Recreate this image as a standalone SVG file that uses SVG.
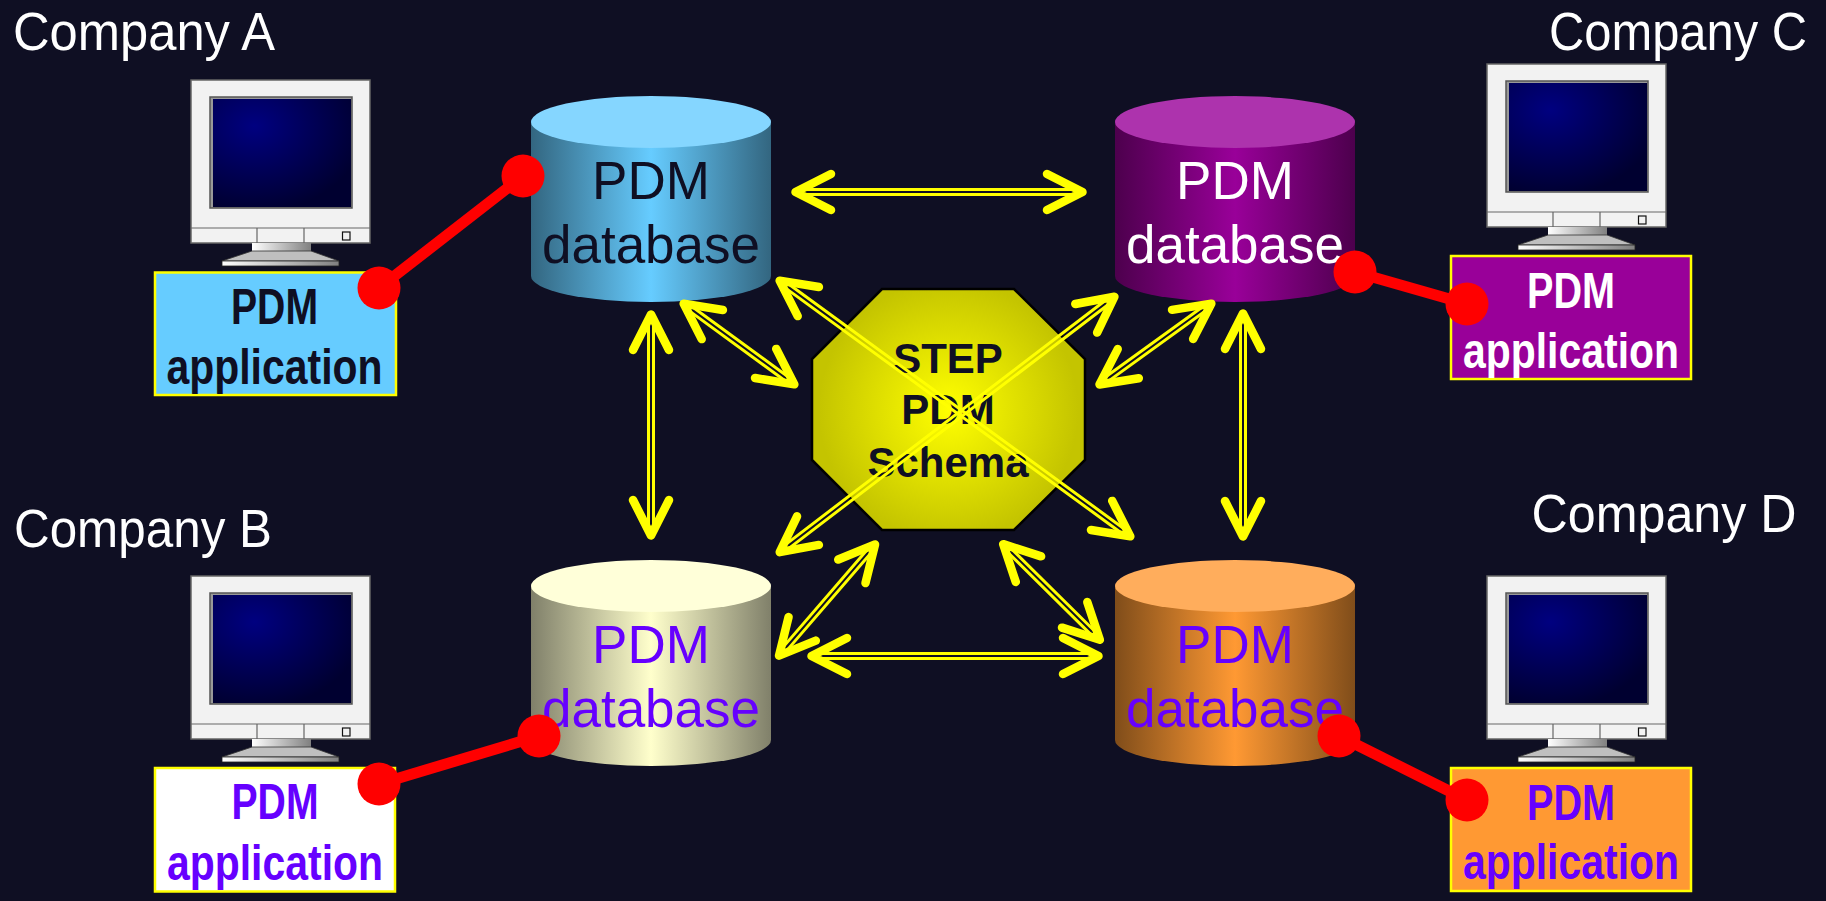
<svg xmlns="http://www.w3.org/2000/svg" width="1826" height="901" viewBox="0 0 1826 901">
<style>
text{text-anchor:middle}
.db{font:53px "Liberation Sans",Arial,sans-serif}
.app{font:bold 50px "Liberation Sans",Arial,sans-serif}
.co{font:54px "Liberation Sans",Arial,sans-serif;fill:#fff}
.box{stroke:#ff0;stroke-width:2.5}
.dark{fill:#0f0f23}.white{fill:#fff}.purple{fill:#60f}
.wire{stroke:#f00;stroke-width:11;fill:none}
.dot{fill:#f00}
.ln{fill:none;stroke:#ff0;stroke-width:3}
.hd{fill:none;stroke:#ff0;stroke-width:8.500;stroke-linecap:round;stroke-linejoin:round}
</style>
<defs>
<linearGradient id="gA"><stop offset="0" stop-color="#336680"/><stop offset=".5" stop-color="#66ccff"/><stop offset="1" stop-color="#336680"/></linearGradient>
<linearGradient id="gB"><stop offset="0" stop-color="#80806a"/><stop offset=".5" stop-color="#ffffcc"/><stop offset="1" stop-color="#80806a"/></linearGradient>
<linearGradient id="gC"><stop offset="0" stop-color="#4d004d"/><stop offset=".5" stop-color="#990099"/><stop offset="1" stop-color="#4d004d"/></linearGradient>
<linearGradient id="gD"><stop offset="0" stop-color="#804d1a"/><stop offset=".5" stop-color="#ff9933"/><stop offset="1" stop-color="#804d1a"/></linearGradient>
<radialGradient id="gO" gradientUnits="userSpaceOnUse" cx="948.5" cy="410" r="130"><stop offset="0" stop-color="#ffff00"/><stop offset="1" stop-color="#c4c400"/></radialGradient>
<radialGradient id="gS" cx=".3" cy=".25" r=".8"><stop offset="0" stop-color="#000080"/><stop offset="1" stop-color="#000030"/></radialGradient>
<linearGradient id="gN"><stop offset="0" stop-color="#fff"/><stop offset="1" stop-color="#808080"/></linearGradient>
<g id="monitor">
<rect x="191" y="80" width="179" height="163" fill="#f2f2f2" stroke="#666" stroke-width="1.5"/>
<rect x="210" y="97" width="142" height="111" fill="#999" stroke="#555" stroke-width="1.5"/>
<rect x="213" y="99" width="138" height="108" fill="url(#gS)"/>
<path d="M191 228H370M257 228V243M304 228V243" fill="none" stroke="#666" stroke-width="1.2"/>
<rect x="342.500" y="232" width="7.500" height="8" fill="#f2f2f2" stroke="#111" stroke-width="1.2"/>
<rect x="252" y="243" width="59" height="8" fill="url(#gN)"/>
<path d="M252 251H311L339 261H222Z" fill="#bfbfbf" stroke="#333" stroke-width=".8"/>
<rect x="222" y="261" width="117" height="5" fill="url(#gN)" stroke="#222" stroke-width=".8"/>
</g>
<path id="head" class="hd" d="M40-18L4.500 0L40 18"/>
</defs>

<rect width="1826" height="901" fill="#0f0f23"/>

<g id="company-a">
<use href="#monitor"/>
<text class="co" x="144" y="50" textLength="262" lengthAdjust="spacingAndGlyphs">Company A</text>
<rect class="box" x="155" y="272.500" width="241" height="122.500" fill="#66ccff"/>
<text class="app dark" x="274.500" y="324" textLength="87" lengthAdjust="spacingAndGlyphs">PDM</text>
<text class="app dark" x="274.500" y="384" textLength="216" lengthAdjust="spacingAndGlyphs">application</text>
</g>
<g id="company-b">
<use href="#monitor" y="496"/>
<text class="co" x="143" y="547" textLength="258" lengthAdjust="spacingAndGlyphs">Company B</text>
<rect class="box" x="155" y="768" width="240" height="123.500" fill="#fff"/>
<text class="app purple" x="275" y="819" textLength="87" lengthAdjust="spacingAndGlyphs">PDM</text>
<text class="app purple" x="275" y="880" textLength="216" lengthAdjust="spacingAndGlyphs">application</text>
</g>
<g id="company-c">
<use href="#monitor" x="1296" y="-16"/>
<text class="co" x="1678" y="50" textLength="258" lengthAdjust="spacingAndGlyphs">Company C</text>
<rect class="box" x="1451" y="256" width="240" height="123" fill="#990099"/>
<text class="app white" x="1571" y="308" textLength="88" lengthAdjust="spacingAndGlyphs">PDM</text>
<text class="app white" x="1571" y="368" textLength="216" lengthAdjust="spacingAndGlyphs">application</text>
</g>
<g id="company-d">
<use href="#monitor" x="1296" y="496"/>
<text class="co" x="1664" y="532" textLength="265" lengthAdjust="spacingAndGlyphs">Company D</text>
<rect class="box" x="1451" y="768" width="240" height="123" fill="#ff9933"/>
<text class="app purple" x="1571" y="820" textLength="88" lengthAdjust="spacingAndGlyphs">PDM</text>
<text class="app purple" x="1571" y="879" textLength="216" lengthAdjust="spacingAndGlyphs">application</text>
</g>

<g id="db-a">
<path d="M531 122V276A120 26 0 0 0 771 276V122Z" fill="url(#gA)"/>
<ellipse cx="651" cy="122" rx="120" ry="26" fill="#85d6ff"/>
<text class="db dark" x="651" y="199">PDM</text>
<text class="db dark" x="651" y="263">database</text>
</g>
<g id="db-c">
<path d="M1115 122V276A120 26 0 0 0 1355 276V122Z" fill="url(#gC)"/>
<ellipse cx="1235" cy="122" rx="120" ry="26" fill="#ad33ad"/>
<text class="db white" x="1235" y="199">PDM</text>
<text class="db white" x="1235" y="263">database</text>
</g>
<g id="db-b">
<path d="M531 586V740A120 26 0 0 0 771 740V586Z" fill="url(#gB)"/>
<ellipse cx="651" cy="586" rx="120" ry="26" fill="#ffffd9"/>
<text class="db purple" x="651" y="663">PDM</text>
<text class="db purple" x="651" y="727">database</text>
</g>
<g id="db-d">
<path d="M1115 586V740A120 26 0 0 0 1355 740V586Z" fill="url(#gD)"/>
<ellipse cx="1235" cy="586" rx="120" ry="26" fill="#ffad5c"/>
<text class="db purple" x="1235" y="663">PDM</text>
<text class="db purple" x="1235" y="727">database</text>
</g>

<g id="step-pdm-schema">
<path d="M882 289H1014L1085 359V460L1014 530H882L812 460V359Z" fill="url(#gO)" stroke="#000" stroke-width="2.500"/>
<text class="app dark" style="font-size:42px" x="948" y="373">STEP</text>
<text class="app dark" style="font-size:42px" x="948" y="424">PDM</text>
<text class="app dark" style="font-size:42px" x="948" y="477">Schema</text>
</g>

<g id="connectors">
<g transform="translate(791 192)"><path class="ln" d="M12-2.500H284M12 2.500H284"/><use href="#head"/><use href="#head" transform="translate(296 0) scale(-1 1)"/></g>
<g transform="translate(807 656)"><path class="ln" d="M12-2.500H284M12 2.500H284"/><use href="#head"/><use href="#head" transform="translate(296 0) scale(-1 1)"/></g>
<g transform="translate(651 310) rotate(90)"><path class="ln" d="M12-2.500H218M12 2.500H218"/><use href="#head"/><use href="#head" transform="translate(230 0) scale(-1 1)"/></g>
<g transform="translate(1243 309) rotate(90)"><path class="ln" d="M12-2.500H220M12 2.500H220"/><use href="#head"/><use href="#head" transform="translate(232 0) scale(-1 1)"/></g>
<g transform="translate(680 301) rotate(36.1)"><path class="ln" d="M12-2.500H134M12 2.500H134"/><use href="#head"/><use href="#head" transform="translate(146 0) scale(-1 1)"/></g>
<g transform="translate(776 278) rotate(36.1)"><path class="ln" d="M12-2.500H431M12 2.500H431"/><use href="#head"/><use href="#head" transform="translate(443 0) scale(-1 1)"/></g>
<g transform="translate(1118 294) rotate(142.65)"><path class="ln" d="M12-2.500H418M12 2.500H418"/><use href="#head"/><use href="#head" transform="translate(430 0) scale(-1 1)"/></g>
<g transform="translate(1215 301) rotate(144.15)"><path class="ln" d="M12-2.500H135M12 2.500H135"/><use href="#head"/><use href="#head" transform="translate(147 0) scale(-1 1)"/></g>
<g transform="translate(878 541) rotate(130.8)"><path class="ln" d="M12-2.500H144M12 2.500H144"/><use href="#head"/><use href="#head" transform="translate(156 0) scale(-1 1)"/></g>
<g transform="translate(1000 541) rotate(44.7)"><path class="ln" d="M12-2.500H133M12 2.500H133"/><use href="#head"/><use href="#head" transform="translate(145 0) scale(-1 1)"/></g>

<path class="wire" d="M379 288L523 176"/>
<circle class="dot" cx="379" cy="288" r="21.500"/><circle class="dot" cx="523" cy="176" r="21.500"/>
<path class="wire" d="M1355 272L1467 304"/>
<circle class="dot" cx="1355" cy="272" r="21.500"/><circle class="dot" cx="1467" cy="304" r="21.500"/>
<path class="wire" d="M379 784L539 736"/>
<circle class="dot" cx="379" cy="784" r="21.500"/><circle class="dot" cx="539" cy="736" r="21.500"/>
<path class="wire" d="M1339 736L1467 800"/>
<circle class="dot" cx="1339" cy="736" r="21.500"/><circle class="dot" cx="1467" cy="800" r="21.500"/>
</g>
</svg>
